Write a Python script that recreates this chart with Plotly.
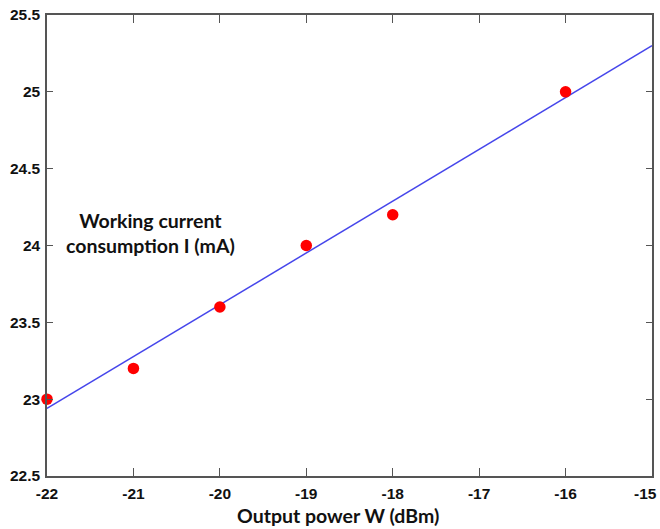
import plotly.graph_objects as go

# Data
power_dbm = [-22, -21, -20, -19, -18, -16]
current_ma = [23.0, 23.2, 23.6, 24.0, 24.2, 25.0]

fit_x = [-22, -15]
fit_y = [22.94, 25.30]

x_ticks = [-22, -21, -20, -19, -18, -17, -16, -15]
x_tick_labels = ["-22", "-21", "-20", "-19", "-18", "-17", "-16", "-15"]
y_ticks = [22.5, 23, 23.5, 24, 24.5, 25, 25.5]

tick_font = dict(family="Liberation Sans Narrow, Liberation Sans, Arial, sans-serif",
                 size=15.5, color="#111111", weight="bold")

fig = go.Figure()
fig.add_trace(go.Scatter(x=fit_x, y=fit_y, mode="lines",
                         line=dict(color="rgb(70,70,235)", width=1.5),
                         showlegend=False, hoverinfo="skip"))
fig.add_trace(go.Scatter(x=power_dbm, y=current_ma, mode="markers",
                         marker=dict(color="rgb(255,0,0)", size=11.5, line=dict(width=0)),
                         showlegend=False, cliponaxis=False))

axis_common = dict(showgrid=False, zeroline=False, showline=True, linecolor="#555555",
                   linewidth=1.5, mirror="ticks", ticks="inside", tickcolor="#555555",
                   tickwidth=1.2, tickfont=tick_font, automargin=False,
                   ticklabeloverflow="allow")

# last x tick label (at the right edge) is drawn as an annotation so it stays inside the page
shown_x_labels = x_tick_labels[:-1] + [""]
fig.update_xaxes(range=[-22, -15], tickvals=x_ticks, ticktext=shown_x_labels, ticklen=8,
                 ticklabelstandoff=3, **axis_common)
fig.update_yaxes(range=[22.5, 25.5], tickvals=y_ticks, ticklen=6, ticklabelstandoff=2, **axis_common)

fig.add_annotation(text=x_tick_labels[-1], xref="x", yref="paper", x=x_ticks[-1],
                   y=-(493 - 476) / 461, xanchor="right", yanchor="middle", xshift=7,
                   showarrow=False, font=tick_font)

fig.add_annotation(text="Working current<br>consumption I (mA)", xref="paper", yref="paper",
                   x=(150 - 47) / 605, y=(476 - 233) / 461, xanchor="center", yanchor="middle",
                   showarrow=False,
                   font=dict(family="Lato, Open Sans, sans-serif", size=19.5, color="#111111", weight="bold"),
                   align="center")
fig.add_annotation(text="Output power W (dBm)", xref="paper", yref="paper",
                   x=(338 - 47) / 605, y=-(515 - 476) / 461, xanchor="center", yanchor="middle",
                   showarrow=False,
                   font=dict(family="Lato, Open Sans, sans-serif", size=19.5, color="#111111", weight="bold"))

fig.update_layout(width=660, height=529, margin=dict(l=47, r=8, t=15, b=53),
                  plot_bgcolor="white", paper_bgcolor="white")

fig.write_html("out.html", config={"displayModeBar": False},
               post_script="document.body.style.margin='0';document.body.style.overflow='hidden';")
